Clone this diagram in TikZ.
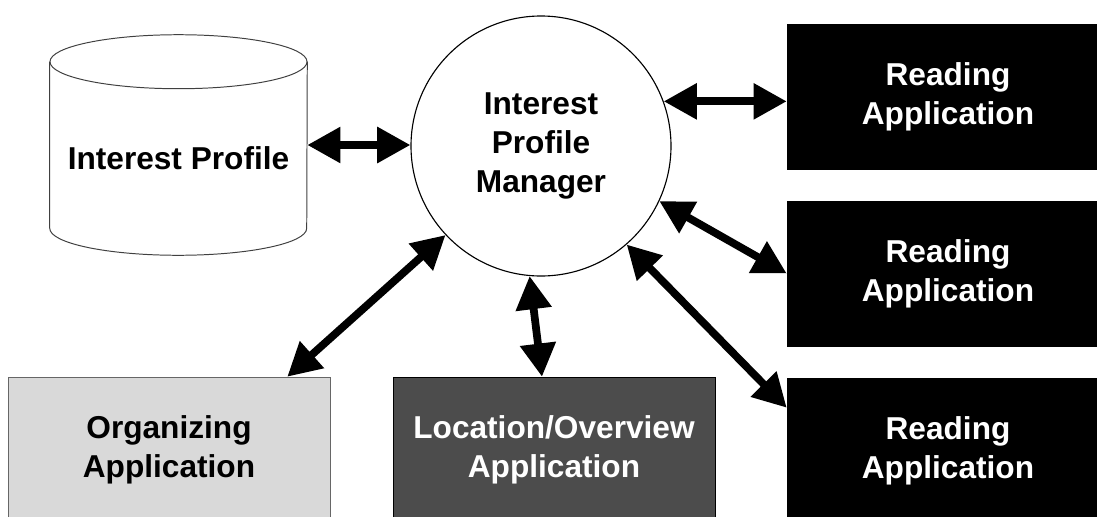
\documentclass[tikz,border=0pt]{standalone}
\usepackage{fontspec}
\setmainfont{Liberation Sans}
\usetikzlibrary{calc}
\usetikzlibrary{arrows.meta}

\begin{document}
\begin{tikzpicture}[
    boxfont/.style={font=\fontsize{22.5}{27.7}\selectfont\bfseries},
    appbox/.style={draw, boxfont, minimum width=8.05cm, minimum height=3.625cm, align=center},
    biarrow/.style={line width=5.5pt, {Triangle[length=0.83cm 0 0, width=0.86cm 0 0]}-{Triangle[length=0.83cm 0 0, width=0.86cm 0 0]}}
]
    \useasboundingbox (0,0) rectangle (27.425,-12.9);
    \clip (0,0) rectangle (27.425,-12.9);

    % Profile store (cylinder)
    \node[minimum width=6.425cm, minimum height=5.5cm, inner sep=0pt] (ip) at (4.4625,-3.625) {};
    \draw[line width=0.7pt, black!75] ($(ip.north west)+(0,-0.675)$) -- ($(ip.south west)+(0,0.675)$)
        arc[start angle=180, end angle=360, x radius=3.2125cm, y radius=0.675cm]
        -- ($(ip.north east)+(0,-0.675)$);
    \draw[line width=0.7pt, black!75] ($(ip.north)+(0,-0.675)$) ellipse[x radius=3.2125cm, y radius=0.675cm];
    \node[boxfont] (iptext) at ([yshift=-0.33cm]ip.center) {Interest Profile};

    % Manager
    \node[draw, circle, line width=0.8pt, minimum size=6.5cm, align=center, boxfont] (ipm) at (13.525,-3.65) {Interest\\Profile\\Manager};

    % Applications
    \foreach \i/\y in {1/-2.4125, 2/-6.8375, 3/-11.2625}
        \node[appbox, fill=black, text=white] (r\i) at (23.7,\y) {Reading\\Application};
    \node[appbox, draw=black!60, fill=black!15] (org) at (4.225,-11.2375) {Organizing\\Application};
    \node[appbox, draw=black, fill=black!70, text=white] (loc) at (13.85,-11.2375) {Location/Overview\\Application};

    % Connectors
    \draw[biarrow] (ip.east) -- (ip.east -| ipm.west);
    \draw[biarrow] (ipm.20) -- (ipm.20 -| r1.west);
    \draw[biarrow] (ipm.-25) -- (r2.west);
    \draw[biarrow] (ipm.-49) -- ([yshift=-0.75cm]r3.north west);
    \draw[biarrow] (ipm.-95) -- ([xshift=-0.3cm]loc.north);
    \draw[biarrow] (ipm.-137) -- ([xshift=-1.075cm]org.north east);
\end{tikzpicture}
\end{document}
